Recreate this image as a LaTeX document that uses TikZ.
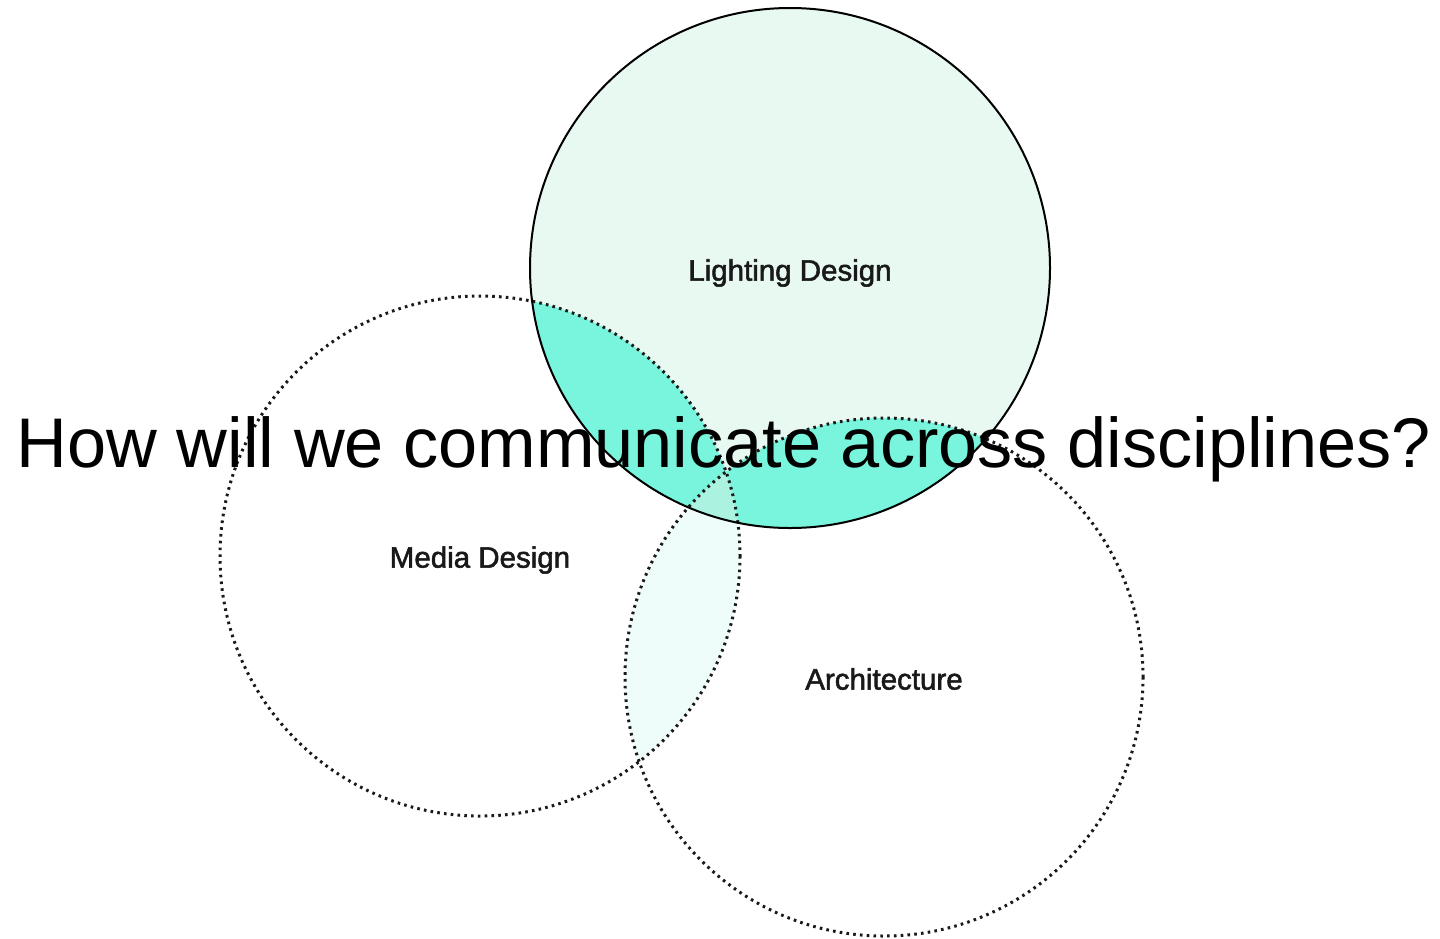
\documentclass[tikz,border=0pt]{standalone}
\usepackage{fontspec}
\setmainfont{Liberation Sans}
\newfontface\labelface{Liberation Sans}[FakeBold=1.8]
\usetikzlibrary{positioning}

\definecolor{lightmint}{HTML}{E8F9F1}
\definecolor{aqua}{HTML}{78F5DC}
\definecolor{paleaqua}{HTML}{ABF2E0}
\definecolor{faintaqua}{HTML}{EEFCFA}

\begin{document}
\begin{tikzpicture}[x = 1pt, y = -1pt]
\tikzset{CircleLine/.style = {line width = 2pt, draw = black},
         DotLine/.style = {line width = 3pt, draw = black!90,
                           dash pattern = on 2.6pt off 4.2pt},
         AreaLabel/.style = {font = \labelface\fontsize{29.5}{33}\selectfont, text = black!90},
         Question/.style = {font = \fontsize{70.3}{78}\selectfont, anchor = base}}
\useasboundingbox[fill = white] (0,0) rectangle (1440,938);
\coordinate (cLight) at (790,268);
\coordinate (cMedia) at (480,556);
\coordinate (cArch) at (884,677);
% overlaps
\begin{scope}
\clip (cMedia) circle (260);
\fill[faintaqua] (cArch) circle (259);
\end{scope}
\fill[lightmint] (cLight) circle (260);
\begin{scope}
\clip (cLight) circle (260);
\fill[aqua] (cMedia) circle (260);
\fill[aqua] (cArch) circle (259);
\clip (cMedia) circle (260);
\fill[paleaqua] (cArch) circle (259);
\end{scope}
% outlines
\draw[DotLine] (cMedia) circle (260);
\draw[DotLine] (cArch) circle (259);
\draw[CircleLine] (cLight) circle (260);
% labels
\node[AreaLabel] (lLight) at ([yshift = -5]cLight) {Lighting Design};
\node[AreaLabel] (lMedia) at ([yshift = -4]cMedia) {Media Design};
\node[AreaLabel] (lArch) at ([yshift = -2]cArch) {Architecture};
\node[Question] (question) at (724,467) {How will we communicate across disciplines?};
\end{tikzpicture}
\end{document}
